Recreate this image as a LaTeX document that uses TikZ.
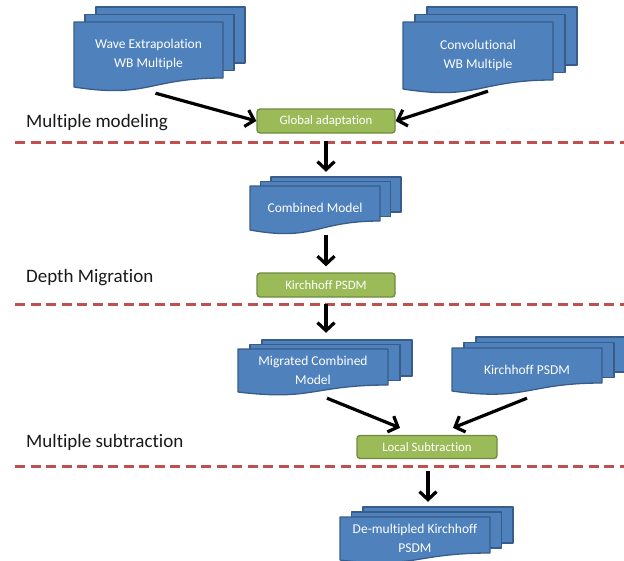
\documentclass[tikz,border=0pt]{standalone}
\usepackage{fontspec}
\setmainfont{Carlito}[Ligatures={NoCommon,NoRare}]
\usetikzlibrary{arrows.meta,calc}
\definecolor{docblue}{HTML}{4F81BD}
\definecolor{docedge}{HTML}{385D8A}
\definecolor{boxgreen}{HTML}{9BBB59}
\definecolor{boxedge}{HTML}{71893F}
\definecolor{seprd}{HTML}{C0504D}
\tikzset{
  docpage/.style={fill=docblue, draw=docedge, line width=1.3pt, line join=round},
  doctext/.style={text=white, align=center, inner sep=0pt, font=\fontsize{13.5}{19.5}\selectfont},
  stepbox/.style={rectangle, rounded corners=3pt, fill=boxgreen, draw=boxedge, line width=1.3pt,
    text=white, inner sep=0pt, font=\fontsize{12.8}{14}\selectfont},
  arr/.style={draw=black, line width=3.2pt, -{Straight Barb[length=8pt,width=17pt]}},
  sepline/.style={draw=seprd, line width=3pt, dash pattern=on 10pt off 5.5pt},
  lab/.style={anchor=west, inner sep=0pt, text=black!90, font=\fontsize{19}{22}\selectfont}
}
% #1 name, #2 x0, #3 y0, #4 x1, #5 yR, #6 yL, #7 dx, #8 dy, #9 text
\newcommand\mdoc[9]{%
  \path[docpage] ({#2+2*#7},{#3-2*#8}) rectangle ({#4+2*#7},{#5-2*#8});
  \path[docpage] ({#2+#7},{#3-#8}) rectangle ({#4+#7},{#5-#8});
  \path[docpage] (#2,#3) -- (#4,#3) -- (#4,#5) .. controls ({(#2+#4)/2},#5) and ({(#2+#4)/2},{#5+2.3*(#6-#5)}) .. (#2,#6) -- cycle;
  \node[doctext, minimum width={(#4-#2)*1pt}, minimum height={(#6-#3)*1pt}] (#1) at ({(#2+#4)/2},{(#3+#6)/2}) {#9};
}
\begin{document}
\begin{tikzpicture}[x=1pt,y=-1pt]
\useasboundingbox (0,0) rectangle (624,560);
\fill[white] (0,0) rectangle (624,560);

% separators
\draw[sepline] (15,142) -- (624,142);
\draw[sepline] (15,304) -- (624,304);
\draw[sepline] (15,466) -- (624,466);

% stage labels
\node[lab] (lmod) at (26,123) {Multiple modeling};
\node[lab] (lmig) at (26,278) {Depth Migration};
\node[lab] (lsub) at (26,442) {Multiple subtraction};

% documents
\mdoc{wave}{74}{22}{223}{78}{87}{11}{7.5}{Wave Extrapolation\\WB Multiple}
\mdoc{conv}{403}{22}{553}{80}{89}{12}{7.5}{Convolutional\\WB Multiple}
\mdoc{comb}{250}{186}{380}{221}{230}{10.5}{4.5}{Combined Model}
\mdoc{mig}{238}{349}{388}{385}{392}{12}{4.5}{Migrated Combined\\Model}
\mdoc{kpsdm}{452}{348}{602}{383}{391}{12}{5.5}{Kirchhoff PSDM}
\mdoc{demult}{340}{517}{490}{553}{560}{11.5}{5}{De-multipled Kirchhoff\\PSDM}

% process boxes
\node[stepbox, minimum width=138pt, minimum height=24pt] (global) at (326,121) {Global adaptation};
\node[stepbox, minimum width=138pt, minimum height=24pt] (kirch) at (326,285) {Kirchhoff PSDM};
\node[stepbox, minimum width=140pt, minimum height=23pt] (local) at (427,447) {Local Subtraction};

% connectors
\draw[arr] ($(wave.south)+(7,6)$) -- (global.west);
\draw[arr] ($(conv.south)+(10,2)$) -- (global.east);
\draw[arr] ($(global.south)+(0,7)$) -- ($(global.south |- comb.north)+(0,-14)$);
\draw[arr] ($(kirch.north |- comb.south)+(0,5)$) -- ($(kirch.north)+(0,-6)$);
\draw[arr] ($(kirch.south)+(0,6)$) -- ($(kirch.south |- mig.north)+(0,-16)$);
\draw[arr] ($(mig.south)+(14,6)$) -- ($(local.north)+(-27,-7)$);
\draw[arr] ($(kpsdm.south)+(0,7)$) -- ($(local.north)+(26,-7)$);
\draw[arr] ($(local.south)+(1,12)$) -- ($(local.south |- demult.north)+(1,-15)$);
\end{tikzpicture}
\end{document}
